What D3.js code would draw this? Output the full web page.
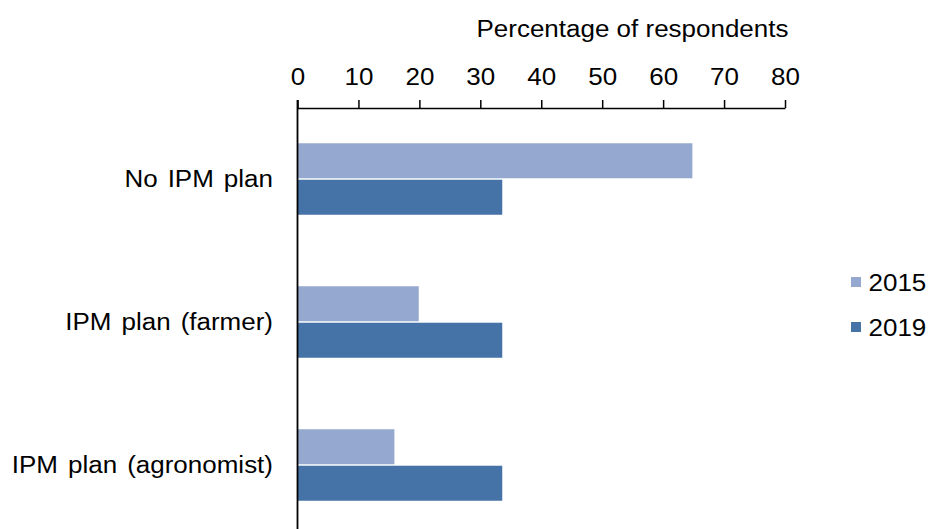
<!DOCTYPE html>
<html>
<head>
<meta charset="utf-8">
<script src="https://cdn.jsdelivr.net/npm/d3@7"></script>
<style>
  html, body { margin: 0; padding: 0; background: #fff; }
  svg { display: block; }
  text { font-family: "Liberation Sans", Arial, sans-serif; fill: #000; }
</style>
</head>
<body>
<svg id="chart" width="931" height="529"></svg>
<script>
// Survey answers: share of respondents with each kind of IPM plan
const categories = ["No IPM plan", "IPM plan (farmer)", "IPM plan (agronomist)"];
const seriesNames = ["2015", "2019"];
const values2015 = [64.8, 19.9, 15.9];
const values2019 = [33.6, 33.6, 33.6];
const xTicks = [0, 10, 20, 30, 40, 50, 60, 70, 80];
const axisTitle = "Percentage of respondents";
const colors = ["#95A9D0", "#4573A7"];

const series = [values2015, values2019];
const svg = d3.select("#chart");
const stretch = "scale(1.13,1)";
const fontSize = "23px";

const x = d3.scaleLinear().domain([0, 80]).range([297.5, 785]);
const y = d3.scaleBand().domain(categories).range([107.5, 536.5])
  .paddingInner(0.5).paddingOuter(0.25);
const ySub = d3.scaleBand().domain(seriesNames).range([0, y.bandwidth()]).paddingInner(0.04);

// Bars
categories.forEach((cat, i) => {
  const g = svg.append("g").attr("transform", `translate(0,${y(cat)})`);
  seriesNames.forEach((s, j) => {
    g.append("rect")
      .attr("x", x(0))
      .attr("y", ySub(s))
      .attr("width", x(series[j][i]) - x(0))
      .attr("height", ySub.bandwidth())
      .attr("fill", colors[j]);
  });
});

// Top value axis
const axis = svg.append("g")
  .attr("transform", `translate(0,108)`)
  .call(d3.axisTop(x).tickValues(xTicks).tickSize(8).tickSizeOuter(0).tickPadding(15));
axis.select(".domain").attr("stroke", "#000").attr("stroke-width", 1.5);
axis.selectAll(".tick line").attr("stroke", "#000").attr("stroke-width", 1.5);
axis.selectAll(".tick text")
  .attr("font-size", fontSize)
  .attr("font-family", "Liberation Sans, Arial, sans-serif")
  .attr("fill", "#000")
  .attr("transform", stretch);

// Vertical category axis line
svg.append("line")
  .attr("x1", x(0)).attr("x2", x(0))
  .attr("y1", 100).attr("y2", 529)
  .attr("stroke", "#000").attr("stroke-width", 1.8);

// Axis title
svg.append("text")
  .attr("transform", `translate(632.5,37) ${stretch}`)
  .attr("text-anchor", "middle")
  .attr("font-size", fontSize)
  .text(axisTitle);

// Category labels
svg.selectAll("text.cat").data(categories).enter().append("text")
  .attr("class", "cat")
  .attr("transform", d => `translate(273,${y(d) + y.bandwidth() / 2 + 8}) ${stretch}`)
  .attr("text-anchor", "end")
  .attr("font-size", fontSize)
  .attr("word-spacing", "2.5px")
  .text(d => d);

// Legend
const legend = svg.append("g");
seriesNames.forEach((s, j) => {
  const ly = 277 + j * 45;
  legend.append("rect")
    .attr("x", 851).attr("y", ly)
    .attr("width", 10).attr("height", 10)
    .attr("fill", colors[j]);
  legend.append("text")
    .attr("transform", `translate(868.5,${ly + 14}) ${stretch}`)
    .attr("font-size", fontSize)
    .text(s);
});
</script>
</body>
</html>
